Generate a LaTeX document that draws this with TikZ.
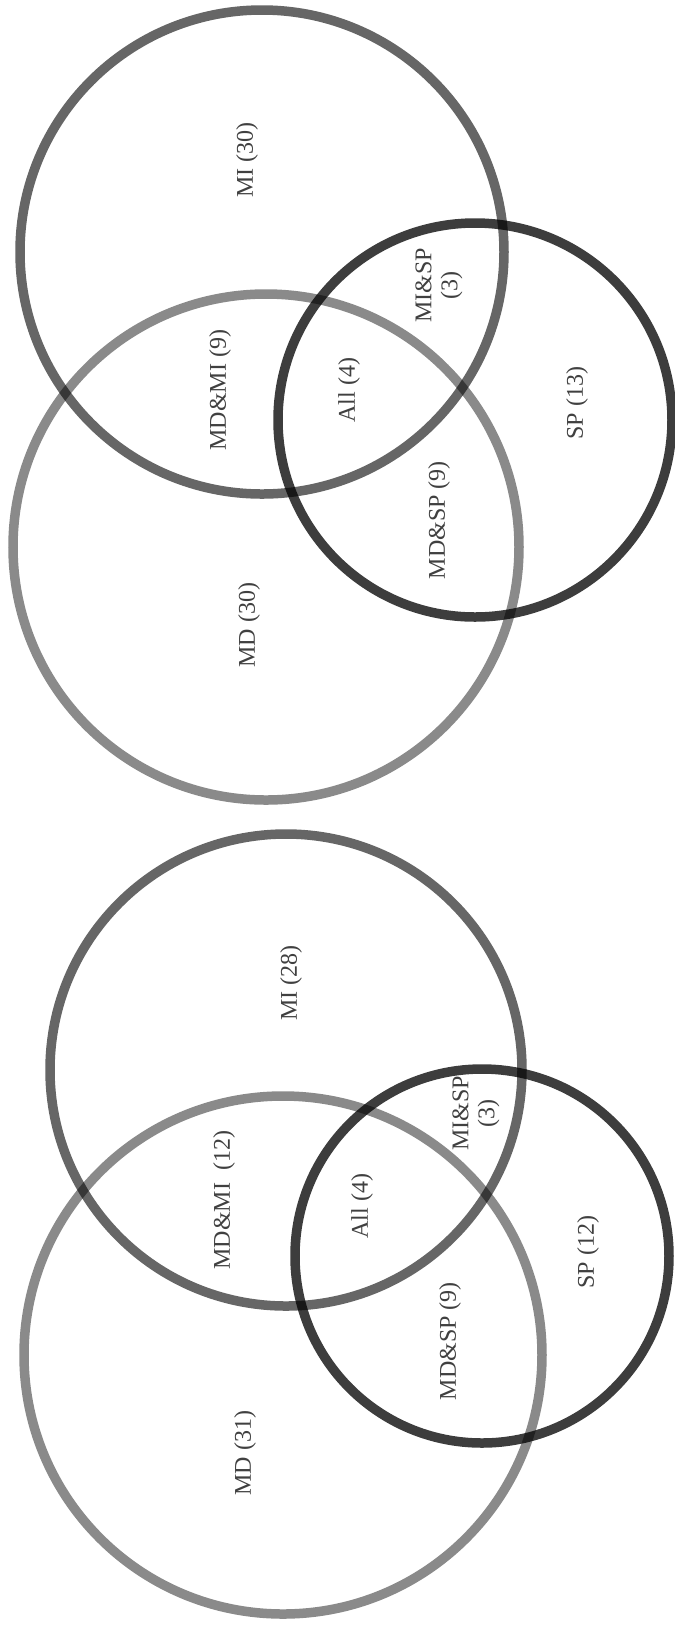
\documentclass[tikz,border=0pt]{standalone}
\usepackage{fontspec}
\setmainfont{Liberation Serif}
\begin{document}
\begin{tikzpicture}[x=0.5pt,y=-0.5pt,
  ring/.style={line width=4.75pt},
  miring/.style={ring, draw=black, draw opacity=0.6},
  mdring/.style={ring, draw=black, draw opacity=0.46},
  spring/.style={ring, draw=black, draw opacity=0.76},
  lab/.style={rotate=90, text=black!75, font=\fontsize{12}{13}\selectfont, align=center, inner sep=0pt}]
\useasboundingbox (0,0) rectangle (675,1630);
% top diagram
\draw[miring] (262,252) circle[radius=242];
\draw[mdring] (266,547) circle[radius=253];
\draw[spring] (475,420) circle[radius=197];
\node[lab] (tmi) at (247,160) {MI (30)};
\node[lab] (tmisp) at (439,285) {MI\&SP\\(3)};
\node[lab] (tmdmi) at (220,390) {MD\&MI (9)};
\node[lab] (tall) at (349,390) {All (4)};
\node[lab] (tsp) at (577,403) {SP (13)};
\node[lab] (tmdsp) at (439,520) {MD\&SP (9)};
\node[lab] (tmd) at (249,625) {MD (30)};
% bottom diagram
\draw[miring] (286,1070) circle[radius=236];
\draw[mdring] (283,1355) circle[radius=259];
\draw[spring] (482,1256) circle[radius=187];
\node[lab] (bmi) at (291,983) {MI (28)};
\node[lab] (bmisp) at (476,1113) {MI\&SP\\(3)};
\node[lab] (bmdmi) at (224,1200) {MD\&MI\ \ (12)};
\node[lab] (ball) at (362,1206) {All (4)};
\node[lab] (bsp) at (588,1252) {SP (12)};
\node[lab] (bmdsp) at (450,1341) {MD\&SP (9)};
\node[lab] (bmd) at (245,1453) {MD (31)};
\end{tikzpicture}
\end{document}
